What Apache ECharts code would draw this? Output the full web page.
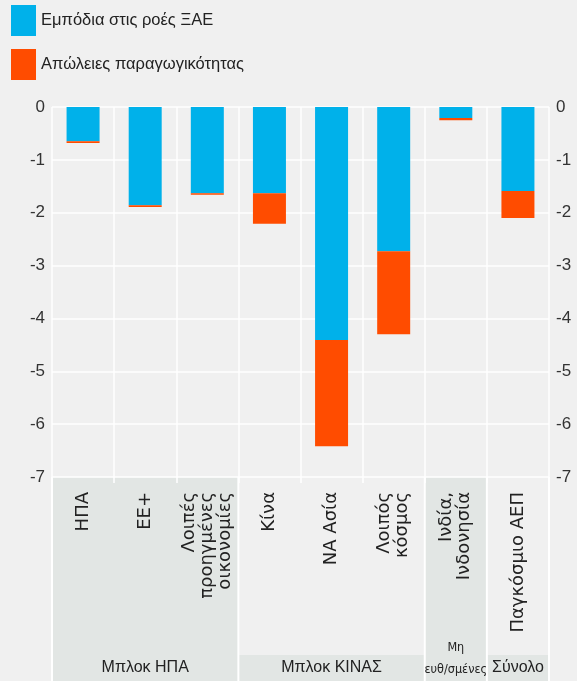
<!DOCTYPE html>
<html>
<head>
<meta charset="utf-8">
<script src="https://cdn.jsdelivr.net/npm/echarts@6/dist/echarts.min.js"></script>
<style>
html,body{margin:0;padding:0;background:#f0f0f0;}
#chart{width:577px;height:681px;}
</style>
</head>
<body>
<div id="chart"></div>
<script>
var categories = ['ΗΠΑ', 'ΕΕ+', 'Λοιπές\nπροηγμένες\nοικονομίες', 'Κίνα', 'ΝΑ Ασία', 'Λοιπός\nκόσμος', 'Ινδία,\nΙνδονησία', 'Παγκόσμιο ΑΕΠ'];
var fdiBarriers = [-0.65, -1.86, -1.63, -1.63, -4.41, -2.73, -0.21, -1.59];
var productivityLoss = [-0.03, -0.03, -0.03, -0.58, -2.01, -1.57, -0.04, -0.51];
var seriesNames = ['Εμπόδια στις ροές ΞΑΕ', 'Απώλειες παραγωγικότητας'];
var groupLabels = ['', 'Μπλοκ ΗΠΑ', '', '', 'Μπλοκ ΚΙΝΑΣ', '', 'Μη\nευθ/σμένες', 'Σύνολο'];
var yTicks = {min: -7, max: 0, interval: 1};

var FONT = 'Liberation Sans, Arial, sans-serif';
var W = 577, H = 681;
var chart = echarts.init(document.getElementById('chart'), null, {renderer: 'canvas'});

var yAxisBase = {
  type: 'value', min: yTicks.min, max: yTicks.max, interval: yTicks.interval,
  axisLine: {show: false}, axisTick: {show: false},
  axisLabel: {fontSize: 17, color: '#333', fontFamily: FONT}
};

var option = {
  backgroundColor: '#f0f0f0',
  animation: false,
  legend: {
    orient: 'vertical', left: 11, top: 5, padding: 0,
    itemWidth: 25, itemHeight: 31, itemGap: 13,
    icon: 'rect',
    textStyle: {fontSize: 16.5, color: '#222', fontFamily: FONT},
    data: seriesNames
  },
  grid: {left: 52, right: 28, top: 107, bottom: 204, containLabel: false},
  xAxis: [{
    type: 'category', data: categories, position: 'bottom',
    axisLine: {show: false, onZero: false},
    axisTick: {show: true, length: 6, lineStyle: {color: '#ffffff', width: 1.5}},
    splitLine: {show: true, interval: 0, lineStyle: {color: '#ffffff', width: 1.5}},
    axisLabel: {interval: 0, rotate: 90, margin: 15, fontSize: 18, lineHeight: 18, color: '#222', fontFamily: 'DejaVu Sans, sans-serif'}
  }, {
    type: 'category', data: categories, position: 'bottom', offset: 204,
    axisLine: {show: false, onZero: false}, axisTick: {show: false}, splitLine: {show: false},
    axisLabel: {
      interval: function (i) { return groupLabels[i] !== ''; },
      margin: 0, verticalAlign: 'bottom',
      formatter: function (v, i) {
        if (groupLabels[i].indexOf('\n') >= 0) {
          return groupLabels[i].split('\n').map(function (s) { return '{n|' + s + '}'; }).join('\n');
        }
        return '{g|' + groupLabels[i] + '}';
      },
      rich: {
        g: {fontSize: 16, lineHeight: 26, color: '#222', fontFamily: FONT},
        n: {fontSize: 12.5, lineHeight: 22, color: '#222', fontFamily: 'Liberation Sans Narrow, DejaVu Sans Condensed, sans-serif'}
      }
    }
  }],
  yAxis: [
    Object.assign({}, yAxisBase, {position: 'left', splitLine: {show: true, lineStyle: {color: '#ffffff', width: 1.5}},
      axisLabel: Object.assign({}, yAxisBase.axisLabel, {margin: 7})}),
    Object.assign({}, yAxisBase, {position: 'right', splitLine: {show: false},
      axisLabel: Object.assign({}, yAxisBase.axisLabel, {margin: 7})})
  ],
  series: [{
    name: seriesNames[0], type: 'bar', stack: 'total', barWidth: 33,
    itemStyle: {color: '#00b1ea'}, data: fdiBarriers
  }, {
    name: seriesNames[1], type: 'bar', stack: 'total', barWidth: 33,
    itemStyle: {color: '#ff4c00'}, data: productivityLoss
  }]
};
chart.setOption(option);

// background shading of the category label area
var c0 = chart.convertToPixel({xAxisIndex: 0}, 0);
var c1 = chart.convertToPixel({xAxisIndex: 0}, 1);
var band = c1 - c0;
function colLeft(i) { return c0 - band / 2 + i * band; }
var yB = chart.convertToPixel({yAxisIndex: 0}, yTicks.min);
var stripTop = H - 26;
var shade = '#e2e6e4';
var els = [
  {type: 'rect', z: -10, silent: true, shape: {x: colLeft(0), y: yB, width: 3 * band, height: H - yB}, style: {fill: shade}},
  {type: 'rect', z: -10, silent: true, shape: {x: colLeft(3), y: stripTop, width: 3 * band, height: H - stripTop}, style: {fill: shade}},
  {type: 'rect', z: -10, silent: true, shape: {x: colLeft(6), y: yB, width: band, height: H - yB}, style: {fill: shade}},
  {type: 'rect', z: -10, silent: true, shape: {x: colLeft(7), y: stripTop, width: band, height: H - stripTop}, style: {fill: shade}}
];
[0, 3, 6, 7, 8].forEach(function (i) {
  els.push({type: 'rect', z: -9, silent: true, shape: {x: colLeft(i) - 1, y: yB, width: 2, height: H - yB}, style: {fill: '#ffffff'}});
});
chart.setOption({graphic: {elements: els}});
</script>
</body>
</html>
